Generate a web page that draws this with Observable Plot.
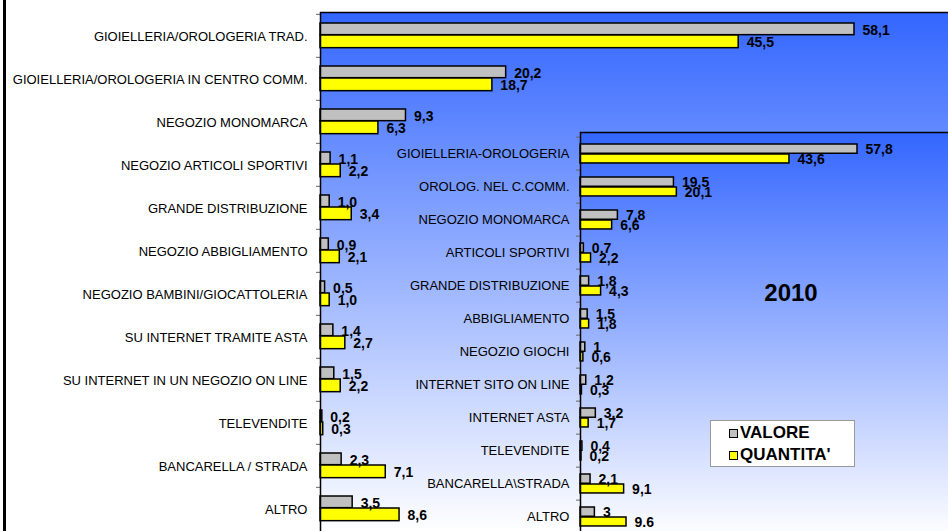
<!DOCTYPE html>
<html>
<head>
<meta charset="utf-8">
<script src="https://cdn.jsdelivr.net/npm/d3@7"></script>
<script src="https://cdn.jsdelivr.net/npm/@observablehq/plot@0.6"></script>
<style>
  html, body { margin: 0; padding: 0; overflow: hidden; background: #fff; }
  #wrap { position: relative; width: 948px; height: 531px; overflow: hidden; font-family: "Liberation Sans", Arial, sans-serif; background: #fff; }
  #wrap svg { position: absolute; left: 0; top: 0; max-width: none; }
  #border { position: absolute; left: 3px; top: 0; width: 3px; height: 531px; background: #000; }
  #year { position: absolute; left: 791px; top: 279px; transform: translateX(-50%); font-weight: bold; font-size: 24px; color: #000; }
  #legend { position: absolute; left: 710px; top: 420px; width: 143px; height: 45px; background: #fff; border: 1px solid #999; box-sizing: content-box; }
  .li { position: absolute; left: 18px; display: flex; align-items: center; font-weight: bold; font-size: 17px; color: #000; line-height: 20px; }
  .sw { width: 7px; height: 7px; border: 1px solid #000; margin-right: 2px; }
</style>
</head>
<body>
<div id="wrap">
  <div id="border"></div>
</div>
<script>
// ---- main chart data (top to bottom) ----
const mainCategories = [
  "GIOIELLERIA/OROLOGERIA TRAD.",
  "GIOIELLERIA/OROLOGERIA IN CENTRO COMM.",
  "NEGOZIO MONOMARCA",
  "NEGOZIO ARTICOLI SPORTIVI",
  "GRANDE DISTRIBUZIONE",
  "NEGOZIO ABBIGLIAMENTO",
  "NEGOZIO BAMBINI/GIOCATTOLERIA",
  "SU INTERNET TRAMITE ASTA",
  "SU INTERNET IN UN NEGOZIO ON LINE",
  "TELEVENDITE",
  "BANCARELLA / STRADA",
  "ALTRO"
];
const mainValore   = [58.1, 20.2, 9.3, 1.1, 1.0, 0.9, 0.5, 1.4, 1.5, 0.2, 2.3, 3.5];
const mainQuantita = [45.5, 18.7, 6.3, 2.2, 3.4, 2.1, 1.0, 2.7, 2.2, 0.3, 7.1, 8.6];

// ---- 2010 inset data (top to bottom) ----
const insetCategories = [
  "GIOIELLERIA-OROLOGERIA",
  "OROLOG. NEL C.COMM.",
  "NEGOZIO MONOMARCA",
  "ARTICOLI SPORTIVI",
  "GRANDE DISTRIBUZIONE",
  "ABBIGLIAMENTO",
  "NEGOZIO GIOCHI",
  "INTERNET SITO ON LINE",
  "INTERNET ASTA",
  "TELEVENDITE",
  "BANCARELLA\\STRADA",
  "ALTRO"
];
const insetValore   = [57.8, 19.5, 7.8, 0.7, 1.8, 1.5, 1, 1.2, 3.2, 0.4, 2.1, 3];
const insetQuantita = [43.6, 20.1, 6.6, 2.2, 4.3, 1.8, 0.6, 0.3, 1.7, 0.2, 9.1, 9.6];
const insetValoreText   = ["57,8", "19,5", "7,8", "0,7", "1,8", "1,5", "1", "1,2", "3,2", "0,4", "2,1", "3"];
const insetQuantitaText = ["43,6", "20,1", "6,6", "2,2", "4,3", "1,8", "0,6", "0,3", "1,7", "0,2", "9,1", "9.6"];

const seriesNames = ["VALORE", "QUANTITA'"];
const seriesColors = ["#c0c0c0", "#ffff00"];
const year = "2010";

const mainRows = mainCategories.map((c, i) => ({cat: c, valore: mainValore[i], quantita: mainQuantita[i]}));
const insetRows = insetCategories.map((c, i) => ({cat: c, valore: insetValore[i], quantita: insetQuantita[i],
  vt: insetValoreText[i], qt: insetQuantitaText[i]}));

const fmt1 = v => v.toFixed(1).replace(".", ",");
const FONT = "'Liberation Sans', Arial, sans-serif";

function gradientDefs(id) {
  return () => {
    const defs = d3.create("svg:defs");
    const g = defs.append("linearGradient").attr("id", id)
      .attr("x1", 0).attr("y1", 0).attr("x2", 0).attr("y2", 1);
    g.append("stop").attr("offset", "0%").attr("stop-color", "#3366ff");
    g.append("stop").attr("offset", "100%").attr("stop-color", "#ffffff");
    return defs.node();
  };
}

function barChart({rows, cats, width, height, left, top, pxPerUnit, gradId, labelSize, labelPad, labelDy,
                   inG, inY, valDy, qtyDy, valText, qtyText, numSize}) {
  const bw = (height - top) / cats.length;
  const xMax = (width - left) / pxPerUnit;
  return Plot.plot({
    width, height,
    marginLeft: left, marginTop: top, marginRight: 0, marginBottom: 0,
    style: {background: "transparent", maxWidth: "none", fontFamily: FONT, fontSize: labelSize + "px", color: "#000", overflow: "visible"},
    x: {domain: [0, xMax], axis: null},
    y: {domain: cats, padding: 0, axis: null},
    marks: [
      gradientDefs(gradId),
      Plot.frame({fill: `url(#${gradId})`}),
      Plot.axisY({tickSize: 0, tickPadding: labelPad, dy: labelDy, fontSize: labelSize, fill: "#000", label: null}),
      Plot.axisY({tickSize: 4, tickFormat: () => "", dy: -bw / 2, stroke: "#666", label: null}),
      Plot.barX(rows, {y: "cat", x: "valore", fill: seriesColors[0], stroke: "#000", strokeWidth: 1.5,
        insetTop: inG[0], insetBottom: bw - inG[1]}),
      Plot.barX(rows, {y: "cat", x: "quantita", fill: seriesColors[1], stroke: "#000", strokeWidth: 1.5,
        insetTop: inY[0], insetBottom: bw - inY[1]}),
      Plot.text(rows, {y: "cat", x: "valore", text: valText, textAnchor: "start", dx: 8, dy: valDy,
        fontWeight: "bold", fontSize: numSize, fill: "#000"}),
      Plot.text(rows, {y: "cat", x: "quantita", text: qtyText, textAnchor: "start", dx: 8, dy: qtyDy,
        fontWeight: "bold", fontSize: numSize, fill: "#000"}),
      Plot.frame({stroke: "#000", strokeWidth: 1.5})
    ]
  });
}

const wrap = document.getElementById("wrap");

const mainSvg = barChart({
  rows: mainRows, cats: mainCategories, width: 950, height: 532, left: 320, top: 12,
  pxPerUnit: 534 / 58.1, gradId: "bgMain", labelSize: 13, labelPad: 13, labelDy: 1,
  inG: [9, 21], inY: [21, 34], valDy: -5, qtyDy: 7,
  valText: d => fmt1(d.valore), qtyText: d => fmt1(d.quantita), numSize: 14
});
wrap.appendChild(mainSvg);

const insetSvg = barChart({
  rows: insetRows, cats: insetCategories, width: 950, height: 537, left: 580, top: 132,
  pxPerUnit: 277 / 57.8, gradId: "bgInset", labelSize: 13, labelPad: 11, labelDy: 0,
  inG: [7, 17], inY: [17, 26.7], valDy: -4, qtyDy: 6,
  valText: "vt", qtyText: "qt", numSize: 14
});
wrap.appendChild(insetSvg);

const yr = document.createElement("div");
yr.id = "year"; yr.textContent = year;
wrap.appendChild(yr);

const lg = document.createElement("div");
lg.id = "legend";
seriesNames.forEach((name, i) => {
  const it = document.createElement("div");
  it.className = "li";
  it.style.top = (i === 0 ? 2 : 24) + "px";
  const sw = document.createElement("span");
  sw.className = "sw"; sw.style.background = seriesColors[i];
  const tx = document.createElement("span");
  tx.textContent = name;
  it.appendChild(sw); it.appendChild(tx);
  lg.appendChild(it);
});
wrap.appendChild(lg);
</script>
</body>
</html>
